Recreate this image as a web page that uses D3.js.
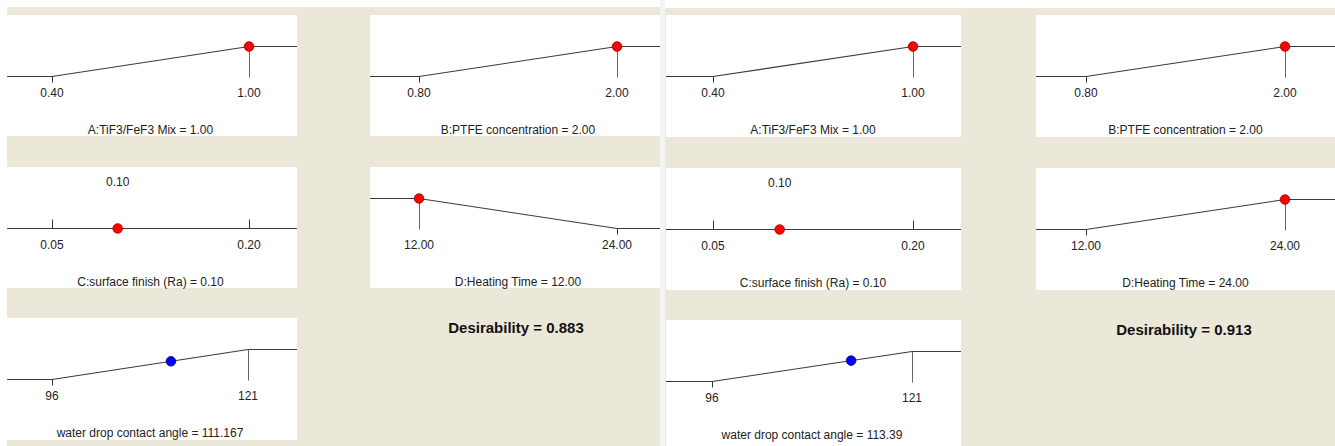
<!DOCTYPE html>
<html><head><meta charset="utf-8">
<script src="https://cdn.jsdelivr.net/npm/d3@7"></script>
<style>
body{margin:0;background:#fff}
svg{display:block}
text{font-family:"Liberation Sans",Arial,sans-serif;fill:#222}
</style>
</head><body>
<svg id="c" width="1335" height="446"></svg>
<script>
// ---- data ----
const factorNames = ["A:TiF3/FeF3 Mix", "B:PTFE concentration", "C:surface finish (Ra)", "D:Heating Time"];
const factorLow = [0.40, 0.80, 0.05, 12.00];
const factorHigh = [1.00, 2.00, 0.20, 24.00];
const goalsSolution1 = ["maximize", "maximize", "in range", "minimize"];
const goalsSolution2 = ["maximize", "maximize", "in range", "maximize"];
const valuesSolution1 = [1.00, 2.00, 0.10, 12.00];
const valuesSolution2 = [1.00, 2.00, 0.10, 24.00];
const responseName = "water drop contact angle";
const responseLow = 96;
const responseHigh = 121;
const responseValues = [111.167, 113.39];
const responseValueLabels = ["111.167", "113.39"];
const desirabilityValues = [0.883, 0.913];

// ---- layout ----
const panels = [
  {x0: 7, y0: 7, x1: 660, y1: 446,
   cols: [[7, 297], [370, 660]], rows: [[15, 136], [167, 288], [318, 440]],
   ramps: [[52, 249], [419, 617]], respRamp: [52, 248], desX: 516, desY: 333,
   goals: goalsSolution1, values: valuesSolution1},
  {x0: 665, y0: 8, x1: 1335, y1: 446,
   cols: [[666, 961], [1036, 1335]], rows: [[15, 137], [168, 290], [320, 446]],
   ramps: [[713, 913], [1086, 1285]], respRamp: [712, 912], desX: 1184, desY: 335,
   goals: goalsSolution2, values: valuesSolution2}
];

const svg = d3.select("#c");
svg.append("rect").attr("width", 1335).attr("height", 446).attr("fill", "#fff");
svg.append("rect").attr("x", 660).attr("y", 0).attr("width", 5).attr("height", 446).attr("fill", "#f4f4f2");

const f2 = d3.format(".2f");
const fInt = d3.format("d");
let clipId = 0;

function drawRamp(g, colX, rowY, ramp, low, high, goal, value, fmt, title, dotFill, dotStroke) {
  const id = "clip" + (clipId++);
  g.append("clipPath").attr("id", id).append("rect")
    .attr("x", colX[0]).attr("y", rowY[0]).attr("width", colX[1] - colX[0]).attr("height", rowY[1] - rowY[0]);
  g.append("rect").attr("x", colX[0]).attr("y", rowY[0]).attr("width", colX[1] - colX[0])
    .attr("height", rowY[1] - rowY[0]).attr("fill", "#fff");
  const b = g.append("g").attr("clip-path", `url(#${id})`);
  const t = g.append("g");
  const x = d3.scaleLinear().domain([low, high]).range(ramp);
  const y = d3.scaleLinear().domain([0, 1]).range([rowY[0] + 61.5, rowY[0] + 31.5]);
  const clamp = v => Math.max(0, Math.min(1, v));
  const des = goal === "maximize" ? v => clamp((v - low) / (high - low))
            : goal === "minimize" ? v => clamp((high - v) / (high - low))
            : v => 0;
  const pts = [x.invert(colX[0]), low, high, x.invert(colX[1])];
  const line = d3.line().x(d => x(d)).y(d => y(des(d)));
  b.append("path").attr("d", line(pts)).attr("fill", "none").attr("stroke", "#3a3a3a").attr("stroke-width", 1.1);

  const ends = [low, high];
  if (goal === "in range") {
    ends.forEach(v => {
      b.append("line").attr("x1", Math.round(x(v)) + 0.5).attr("x2", Math.round(x(v)) + 0.5)
        .attr("y1", y(0) - 9).attr("y2", y(0)).attr("stroke", "#333");
    });
    t.append("text").attr("x", x(value)).attr("y", rowY[0] + 19).attr("text-anchor", "middle")
      .attr("font-size", 12).text(fmt(value));
  } else {
    const target = goal === "maximize" ? high : low;
    const other = goal === "maximize" ? low : high;
    b.append("line").attr("x1", Math.round(x(target)) + 0.5).attr("x2", Math.round(x(target)) + 0.5)
      .attr("y1", y(1)).attr("y2", y(0) + 1).attr("stroke", "#666");
    b.append("line").attr("x1", Math.round(x(other)) + 0.5).attr("x2", Math.round(x(other)) + 0.5)
      .attr("y1", y(0)).attr("y2", y(0) + 6).attr("stroke", "#333");
  }
  ends.forEach(v => {
    t.append("text").attr("x", x(v)).attr("y", rowY[0] + 82).attr("text-anchor", "middle")
      .attr("font-size", 12).text(fmt(v));
  });
  t.append("text").attr("x", (ramp[0] + ramp[1]) / 2).attr("y", rowY[0] + 119).attr("text-anchor", "middle")
    .attr("font-size", 12).text(title);
  b.append("circle").attr("cx", x(value)).attr("cy", y(des(value))).attr("r", 4.8)
    .attr("fill", dotFill).attr("stroke", dotStroke).attr("stroke-width", 0.8);
}

panels.forEach((p, pi) => {
  const g = svg.append("g");
  g.append("rect").attr("x", p.x0).attr("y", p.y0).attr("width", p.x1 - p.x0).attr("height", p.y1 - p.y0)
    .attr("fill", "#ece8d9");
  factorNames.forEach((name, i) => {
    const col = i % 2, row = Math.floor(i / 2);
    drawRamp(g, p.cols[col], p.rows[row], p.ramps[col], factorLow[i], factorHigh[i], p.goals[i],
      p.values[i], f2, `${name} = ${f2(p.values[i])}`, "#ff0000", "#a00000");
  });
  drawRamp(g, p.cols[0], p.rows[2], p.respRamp, responseLow, responseHigh, "maximize",
    responseValues[pi], fInt, `${responseName} = ${responseValueLabels[pi]}`, "#0000ff", "#000080");
  g.append("text").attr("x", p.desX).attr("y", p.desY).attr("text-anchor", "middle")
    .attr("font-size", 15).attr("font-weight", "bold").style("fill", "#111")
    .text("Desirability = " + d3.format(".3f")(desirabilityValues[pi]));
});
</script>
</body></html>
